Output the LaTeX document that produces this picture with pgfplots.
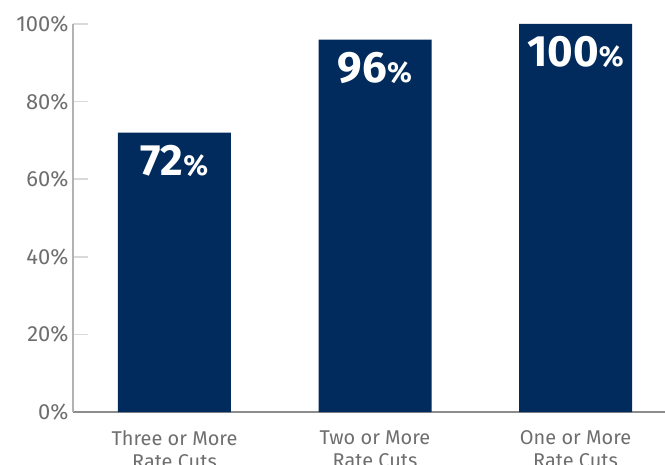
\documentclass[border=0pt]{standalone}
\usepackage{pgfplots}
\pgfplotsset{compat=1.18}
\usepackage{fontspec}
\setmainfont{Fira Sans}
\usetikzlibrary{calc}
\definecolor{navy}{RGB}{0,43,92}
\definecolor{ticktext}{RGB}{110,110,110}
\begin{document}
\begin{tikzpicture}
\begin{axis}[
  scale only axis, width=592bp, height=388bp,
  ymin=0, ymax=100, xmin=-0.506, xmax=2.446,
  ytick={0,20,40,60,80,100},
  yticklabel={\pgfmathprintnumber{\tick}\%},
  /pgf/number format/assume math mode=true,
  xtick=data,
  xticklabels={{Three or More\\Rate Cuts},{Two or More\\Rate Cuts},{One or More\\Rate Cuts}},
  xticklabel style={align=center, font=\fontsize{20}{23}\selectfont, text=ticktext, yshift=0bp},
  yticklabel style={font=\fontsize{22}{24}\selectfont, text=ticktext, xshift=-1bp},
  axis x line*=bottom, axis y line*=left,
  x axis line style={draw=gray!90, line width=1.6bp, -},
  y axis line style={draw=gray!60, line width=1.6bp, -},
  xtick style={draw=none},
  ytick style={draw=gray!30, line width=1.5bp},
  tick align=inside, major tick length=15bp,
  ybar, bar width=113bp,
  nodes near coords={\fontsize{44}{44}\selectfont\pgfmathprintnumber{\pgfplotspointmeta}{\fontsize{29}{29}\selectfont\%}},
  nodes near coords style={anchor=north, yshift=-9bp, text=white, font=\bfseries},
  clip=false,
]
\addplot[fill=navy, draw=none] coordinates {(0,72) (1,96) (2,100)};
\end{axis}
\pgfresetboundingbox
\path[use as bounding box] ($(current axis.south west)+(-73bp,-53bp)$) rectangle ($(current axis.north east)+(0,24bp)$);
\end{tikzpicture}
\end{document}
